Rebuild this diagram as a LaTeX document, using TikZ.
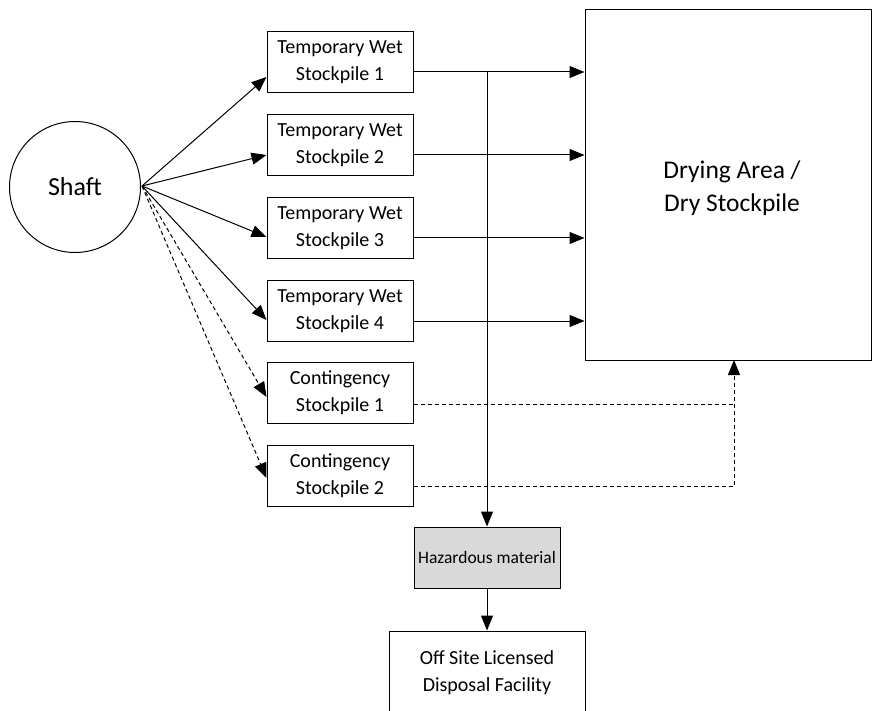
\documentclass[tikz,border=0pt]{standalone}
\usepackage{fontspec}
\setmainfont{Carlito}
\usepackage{tikz}
\usetikzlibrary{arrows.meta}
\usetikzlibrary{positioning}

\tikzset{
  pile/.style={draw, line width=1pt, minimum width=146pt, minimum height=61pt,
    align=center, inner sep=0pt, font=\fontsize{20}{27}\selectfont},
  arr/.style={line width=1pt, -{Triangle[length=15pt,width=12pt]}},
  dasharr/.style={arr, dashed, dash pattern=on 4pt off 3pt},
  dashline/.style={line width=1pt, dash pattern=on 4pt off 3pt}
}

\begin{document}
\begin{tikzpicture}[x=1pt,y=-1pt]
  % Fix the page size
  \useasboundingbox (0,0) rectangle (872,711);

  % Draw the shaft
  \node[draw, circle, line width=1pt, minimum size=131pt, inner sep=0pt,
    font=\fontsize{26}{30}\selectfont] (shaft) at (75,187) {Shaft};

  % Draw the stockpiles
  \node[pile] (tw1) at (340,62) {Temporary Wet\\Stockpile 1};
  \node[pile] (tw2) at (340,145) {Temporary Wet\\Stockpile 2};
  \node[pile] (tw3) at (340,228) {Temporary Wet\\Stockpile 3};
  \node[pile] (tw4) at (340,311) {Temporary Wet\\Stockpile 4};
  \node[pile] (cs1) at (340,393) {Contingency\\Stockpile 1};
  \node[pile] (cs2) at (340,476) {Contingency\\Stockpile 2};

  % Draw the drying area
  \node[draw, line width=1pt, minimum width=286pt, minimum height=350pt] (dry) at (728,185) {};
  \node[align=center, font=\fontsize{25.5}{33}\selectfont] (drytext) at (732,188)
    {Drying Area /\\Dry Stockpile};

  % Draw the hazardous material and disposal boxes
  \node[draw, line width=1pt, fill=black!15, minimum width=146pt, minimum height=61pt,
    inner sep=0pt, font=\fontsize{17.5}{20}\selectfont] (haz) at (487,557.5)
    {Hazardous material};
  \node[draw, line width=1pt, minimum width=196pt, minimum height=84pt,
    align=center, inner sep=0pt, font=\fontsize{20}{27}\selectfont] (off) at (487,673)
    {Off Site Licensed\\Disposal Facility};

  % Arrows from the shaft
  \coordinate (s) at (142,186);
  \draw[arr] (s) -- ([yshift=-15pt]tw1.west);
  \draw[arr] (s) -- ([yshift=-10pt]tw2.west);
  \draw[arr] (s) -- ([yshift=-9pt]tw3.west);
  \draw[arr] (s) -- ([yshift=-9pt]tw4.west);
  \draw[dasharr] (s) -- ([yshift=-4pt]cs1.west);
  \draw[dasharr] (s) -- ([yshift=-2pt]cs2.west);

  % Arrows to the drying area
  \coordinate (o1) at ([yshift=-10pt]tw1.east);
  \coordinate (o2) at ([yshift=-10pt]tw2.east);
  \coordinate (o3) at ([yshift=-10pt]tw3.east);
  \coordinate (o4) at ([yshift=-10pt]tw4.east);
  \foreach \i in {1,...,4}
    \draw[arr] (o\i) -- (o\i -| dry.west);

  % Line down to the hazardous material
  \draw[arr] (o1 -| haz.north) -- (haz.north);
  \draw[arr] (haz.south) -- (off.north);

  % Contingency lines
  \coordinate (c1) at ([yshift=-11pt]cs1.east);
  \coordinate (c2) at ([yshift=-10pt]cs2.east);
  \coordinate (d) at (734,360);
  \draw[dashline] (c1) -- (c1 -| d);
  \draw[dasharr] (c2) -| (d);
\end{tikzpicture}
\end{document}
